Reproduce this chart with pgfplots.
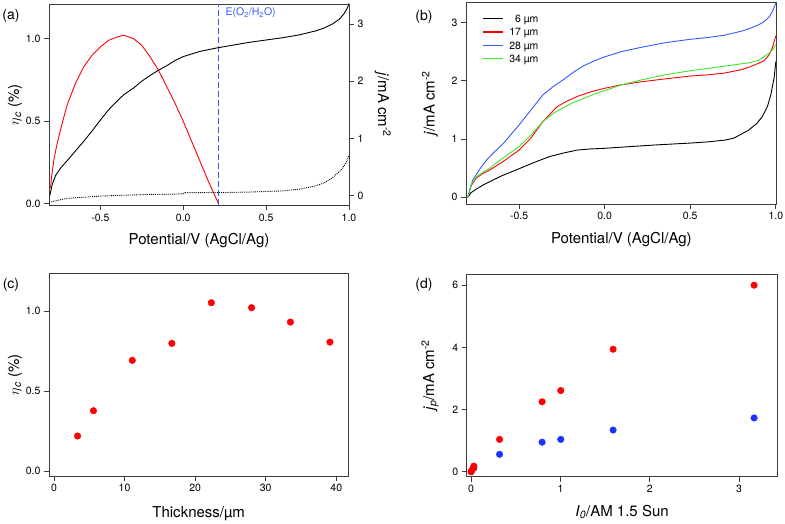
\documentclass[border=0pt]{standalone}
\usepackage{fontspec}
\setmainfont{TeX Gyre Heros}
\usepackage{pgfplots}
\pgfplotsset{compat=1.18}
\definecolor{myred}{RGB}{255,0,0}
\definecolor{myblue}{RGB}{30,50,255}
\definecolor{lblue}{RGB}{50,90,255}
\definecolor{mygreen}{RGB}{60,230,40}
\definecolor{frame}{RGB}{60,60,60}
\pgfplotsset{
  base/.style={scale only axis, enlargelimits=false,
    axis line style={frame, line width=0.8pt},
    tick align=outside, major tick length=5pt,
    every tick/.style={frame, line width=0.8pt},
    tick label style={font=\fontsize{10.5}{12}\selectfont},
    label style={font=\fontsize{15}{17}\selectfont},
    /pgf/number format/assume math mode=true},
  onedec/.style={/pgf/number format/.cd, fixed, fixed zerofill, precision=1},
}
\newcommand{\keyline}[1]{\textcolor{#1}{\rule[0.32em]{20pt}{1.1pt}}}
\begin{document}
\begin{tikzpicture}
\useasboundingbox (0pt,0pt) rectangle (785pt,524pt);
% ---------------- (a) ----------------
\begin{axis}[base, tick pos=left, at={(49pt,318.5pt)}, anchor=south west, width=300pt, height=201.5pt,
  xmin=-0.81, xmax=1.0, ymin=-0.01, ymax=1.21,
  xtick={-0.5,0,0.5,1}, ytick={0,0.5,1},
  xticklabel style={onedec}, yticklabel style={onedec},
  xlabel={Potential/V (AgCl/Ag)},
  ylabel={$\eta$\textsubscript{\itshape c} (\%)},
  xlabel style={at={(axis description cs:0.5,-0.174)}, anchor=center},
  ylabel style={at={(axis description cs:-0.113,0.5)}, anchor=center}]
\addplot[myred, line width=0.9pt] coordinates {
(-0.805,0.10) (-0.80,0.10) (-0.795,0.16) (-0.78,0.27) (-0.762,0.36) (-0.73,0.49) (-0.70,0.60) (-0.65,0.73) (-0.60,0.83) (-0.55,0.90) (-0.50,0.95) (-0.45,0.99) (-0.40,1.01) (-0.36,1.02) (-0.35,1.018) (-0.30,1.0) (-0.25,0.96) (-0.20,0.89) (-0.15,0.81) (-0.10,0.71) (-0.05,0.61) (0.0,0.50) (0.05,0.38) (0.10,0.26) (0.15,0.14) (0.213,0.0)};
\addplot[lblue, line width=0.9pt, dash pattern=on 6pt off 3pt] coordinates {(0.213,-0.01) (0.213,1.21)};
\node[lblue, anchor=west, font=\fontsize{10.5}{11}\selectfont] at (axis cs:0.235,1.155) {E(O\textsubscript{2}/H\textsubscript{2}O)};
\end{axis}
\begin{axis}[base, at={(49pt,318.5pt)}, anchor=south west, width=300pt, height=201.5pt,
  xmin=-0.81, xmax=1.0, ymin=-0.175, ymax=3.35,
  axis y line*=right, axis x line=none, ytick={0,1,2,3},
  ytick pos=right, yticklabel pos=right,
  ylabel={\textit{j}/mA cm\textsuperscript{-2}},
  ylabel style={at={(axis description cs:1.113,0.5)}, anchor=center, rotate=180}]
\addplot[black, line width=0.9pt] coordinates {
(-0.805,0.0) (-0.79,0.2) (-0.77,0.35) (-0.74,0.48) (-0.70,0.61) (-0.65,0.78) (-0.60,0.95) (-0.55,1.13) (-0.50,1.32) (-0.45,1.50) (-0.40,1.65) (-0.36,1.76) (-0.30,1.88) (-0.25,2.0) (-0.20,2.1) (-0.15,2.19) (-0.10,2.27) (-0.05,2.36) (0.0,2.43) (0.1,2.52) (0.2,2.58) (0.3,2.63) (0.4,2.68) (0.5,2.72) (0.6,2.76) (0.7,2.81) (0.8,2.88) (0.85,2.93) (0.90,3.0) (0.94,3.08) (0.97,3.18) (0.99,3.28) (1.0,3.36)};
\addplot[black, line width=0.9pt, densely dotted] coordinates {
(-0.81,-0.12) (-0.75,-0.08) (-0.7,-0.05) (-0.6,-0.03) (-0.5,-0.01) (-0.4,0.0) (-0.3,0.01) (-0.2,0.02) (-0.1,0.02) (0.0,0.03) (0.01,0.05) (0.2,0.05) (0.4,0.06) (0.5,0.07) (0.6,0.08) (0.7,0.11) (0.8,0.17) (0.85,0.22) (0.9,0.31) (0.95,0.44) (0.98,0.56) (1.0,0.70)};
\end{axis}
% ---------------- (b) ----------------
\begin{axis}[base, tick pos=left, at={(466pt,320pt)}, anchor=south west, width=310.7pt, height=202pt,
  xmin=-0.81, xmax=1.005, ymin=-0.115, ymax=3.35,
  xtick={-0.5,0,0.5,1}, ytick={0,1,2,3}, xticklabel style={onedec},
  xlabel={Potential/V (AgCl/Ag)},
  ylabel={\textit{j}/mA cm\textsuperscript{-2}},
  xlabel style={at={(axis description cs:0.5,-0.178)}, anchor=center},
  ylabel style={at={(axis description cs:-0.116,0.5)}, anchor=center}]
\addplot[black, line width=0.9pt] coordinates {
(-0.80,0) (-0.78,0.08) (-0.75,0.14) (-0.71,0.21) (-0.67,0.27) (-0.60,0.37) (-0.5,0.49) (-0.41,0.60) (-0.32,0.70) (-0.24,0.76) (-0.16,0.81) (-0.08,0.83) (0,0.84) (0.15,0.87) (0.31,0.90) (0.5,0.93) (0.6,0.95) (0.7,0.98) (0.75,1.01) (0.79,1.07) (0.84,1.15) (0.89,1.27) (0.92,1.38) (0.95,1.55) (0.97,1.75) (0.99,2.05) (1.0,2.33)};
\addplot[color=myred, line width=0.9pt] coordinates {
(-0.80,0) (-0.78,0.2) (-0.75,0.33) (-0.71,0.41) (-0.67,0.47) (-0.60,0.60) (-0.5,0.81) (-0.43,1.02) (-0.36,1.3) (-0.28,1.55) (-0.22,1.65) (-0.16,1.73) (-0.08,1.81) (0,1.87) (0.1,1.93) (0.21,1.98) (0.35,2.03) (0.5,2.08) (0.6,2.10) (0.7,2.13) (0.8,2.19) (0.85,2.24) (0.9,2.30) (0.93,2.34) (0.96,2.44) (0.98,2.57) (1.0,2.77)};
\addplot[color=lblue, line width=0.9pt] coordinates {
(-0.80,0) (-0.78,0.2) (-0.77,0.3) (-0.73,0.48) (-0.69,0.64) (-0.64,0.79) (-0.59,0.93) (-0.5,1.24) (-0.43,1.50) (-0.36,1.76) (-0.30,1.90) (-0.24,2.02) (-0.18,2.15) (-0.12,2.26) (-0.06,2.34) (0,2.41) (0.1,2.50) (0.21,2.57) (0.35,2.65) (0.5,2.71) (0.6,2.74) (0.7,2.78) (0.8,2.85) (0.85,2.9) (0.9,2.96) (0.93,3.01) (0.96,3.09) (0.98,3.19) (1.0,3.33)};
\addplot[color=mygreen, line width=0.9pt] coordinates {
(-0.80,0) (-0.78,0.22) (-0.75,0.35) (-0.71,0.43) (-0.67,0.50) (-0.60,0.66) (-0.5,0.87) (-0.43,1.07) (-0.36,1.30) (-0.30,1.44) (-0.24,1.54) (-0.18,1.63) (-0.12,1.70) (-0.06,1.77) (0,1.83) (0.1,1.93) (0.21,2.01) (0.35,2.10) (0.5,2.17) (0.6,2.21) (0.7,2.25) (0.8,2.29) (0.85,2.31) (0.9,2.35) (0.93,2.41) (0.96,2.47) (0.98,2.53) (1.0,2.62)};
\node[anchor=north west, inner sep=0pt, font=\fontsize{10.5}{13.3}\selectfont] at (axis description cs:0.055,0.945) {%
\begin{tabular}{@{}l@{\hspace{6pt}}r@{}}
\keyline{black} & 6 µm\\
\keyline{myred} & 17 µm\\
\keyline{lblue} & 28 µm\\
\keyline{mygreen} & 34 µm
\end{tabular}};
\end{axis}
% ---------------- (c) ----------------
\begin{axis}[base, tick pos=left, at={(49pt,48pt)}, anchor=south west, width=299.3pt, height=202.7pt,
  xmin=-0.7, xmax=41.7, ymin=-0.031, ymax=1.236,
  xtick={0,10,20,30,40}, ytick={0,0.5,1}, yticklabel style={onedec},
  xlabel={Thickness/µm},
  ylabel={$\eta$\textsubscript{\itshape c} (\%)},
  xlabel style={at={(axis description cs:0.5,-0.184)}, anchor=center},
  ylabel style={at={(axis description cs:-0.114,0.5)}, anchor=center}]
\addplot[only marks, mark=*, mark size=3.3pt, mark options={draw=myred, fill=myred}] coordinates {
(3.35,0.219) (5.6,0.377) (11.1,0.692) (16.7,0.798) (22.3,1.052) (28.0,1.021) (33.5,0.931) (39.1,0.806)};
\end{axis}
% ---------------- (d) ----------------
\begin{axis}[base, tick pos=left, at={(466.7pt,47.3pt)}, anchor=south west, width=310.6pt, height=202.7pt,
  xmin=-0.05, xmax=3.43, ymin=-0.16, ymax=6.36,
  xtick={0,1,2,3}, ytick={0,2,4,6},
  xlabel={\textit{I}\textsubscript{\itshape 0}/AM 1.5 Sun},
  ylabel={\textit{j}\textsubscript{\itshape p}/mA cm\textsuperscript{-2}},
  xlabel style={at={(axis description cs:0.5,-0.173)}, anchor=center},
  ylabel style={at={(axis description cs:-0.118,0.5)}, anchor=center}]
\addplot[only marks, mark=*, mark size=3.3pt, mark options={draw=myblue, fill=myblue}] coordinates {
(0,0) (0.03,0.12) (0.318,0.56) (0.795,0.95) (1.004,1.04) (1.59,1.34) (3.17,1.73)};
\addplot[only marks, mark=*, mark size=3.3pt, mark options={draw=myred, fill=myred}] coordinates {
(0,0) (0.015,0.08) (0.03,0.18) (0.318,1.04) (0.795,2.25) (1.004,2.61) (1.59,3.94) (3.17,6.0)};
\end{axis}
% panel labels
\node[font=\fontsize{14}{16}\selectfont] at (11pt,508pt) {(a)};
\node[font=\fontsize{14}{16}\selectfont] at (424pt,507pt) {(b)};
\node[font=\fontsize{14}{16}\selectfont] at (11pt,239pt) {(c)};
\node[font=\fontsize{14}{16}\selectfont] at (424pt,239pt) {(d)};
\end{tikzpicture}
\end{document}
